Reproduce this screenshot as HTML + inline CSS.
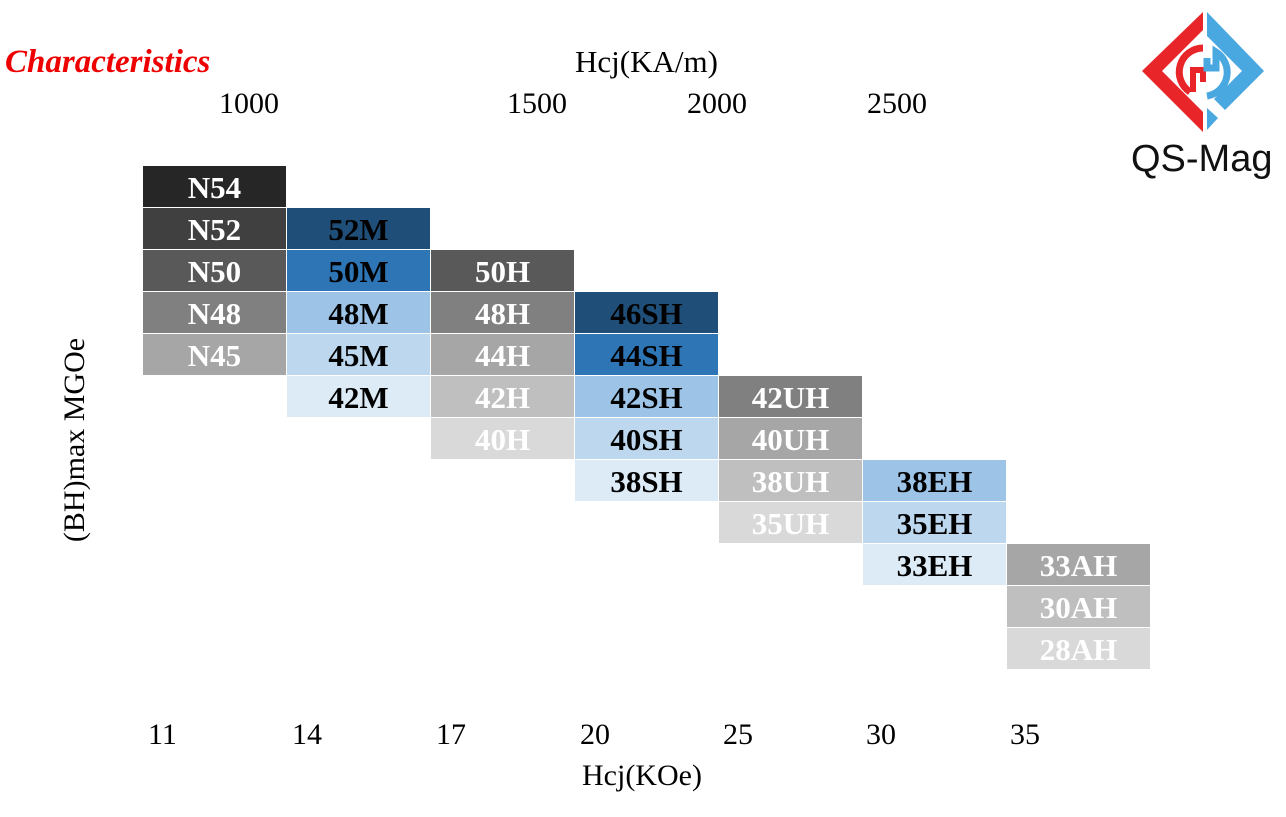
<!DOCTYPE html><html><head><style>
body{margin:0;width:1286px;height:817px;background:#fff;position:relative;overflow:hidden;font-family:"Liberation Serif",serif}
.t{position:absolute;white-space:nowrap;font-size:30px}
.c{position:absolute;width:143px;height:41px;line-height:43px;text-align:center;font-weight:bold;font-size:31px}
.w{color:#fff}.k{color:#000}
</style></head><body>
<div class="t" style="left:5px;top:44px;color:#e00;font-size:33px;font-weight:bold;font-style:italic">Characteristics</div>
<div class="t" style="left:575px;top:44px;font-size:31px">Hcj(KA/m)</div>
<div class="t" style="left:219px;top:87px">1000</div>
<div class="t" style="left:507px;top:87px">1500</div>
<div class="t" style="left:687px;top:87px">2000</div>
<div class="t" style="left:867px;top:87px">2500</div>
<div class="t" style="left:75px;top:440px;transform:translate(-50%,-50%) rotate(-90deg);transform-origin:center">(BH)max MGOe</div>
<div class="t" style="left:148px;top:718px">11</div>
<div class="t" style="left:292px;top:718px">14</div>
<div class="t" style="left:436px;top:718px">17</div>
<div class="t" style="left:580px;top:718px">20</div>
<div class="t" style="left:723px;top:718px">25</div>
<div class="t" style="left:866px;top:718px">30</div>
<div class="t" style="left:1010px;top:718px">35</div>
<div class="t" style="left:582px;top:759px">Hcj(KOe)</div>
<svg style="position:absolute;left:1140px;top:10px" width="130" height="125" viewBox="0 0 130 125">
<polygon points="63,2 63,20 22,61 63,102 63,122 2,61" fill="#e8262a"/>
<polygon points="67,2 124,61 85,100 74,89 102,61 67,26" fill="#4aa8e0"/>
<polygon points="67,98 78,108 67,120" fill="#4aa8e0"/>
<path d="M63,38 A24,24 0 0 0 50,82" fill="none" stroke="#e8262a" stroke-width="7"/>
<path d="M53,82 L53,60 L63,60 L63,72" fill="none" stroke="#e8262a" stroke-width="6"/>
<path d="M67,48 L67,58 L76,58 L76,42 A24,24 0 0 1 67,86" fill="none" stroke="#4aa8e0" stroke-width="7"/>
</svg>
<div class="t" style="left:1131px;top:138px;font-family:'Liberation Sans',sans-serif;font-size:38px;color:#111">QS-Mag</div>
<div class="c w" style="left:143px;top:166px;background:#262626">N54</div>
<div class="c w" style="left:143px;top:208px;background:#404040">N52</div>
<div class="c w" style="left:143px;top:250px;background:#595959">N50</div>
<div class="c w" style="left:143px;top:292px;background:#808080">N48</div>
<div class="c w" style="left:143px;top:334px;background:#a6a6a6">N45</div>
<div class="c k" style="left:287px;top:208px;background:#1f4e79">52M</div>
<div class="c k" style="left:287px;top:250px;background:#2e75b6">50M</div>
<div class="c k" style="left:287px;top:292px;background:#9dc3e6">48M</div>
<div class="c k" style="left:287px;top:334px;background:#bdd7ee">45M</div>
<div class="c k" style="left:287px;top:376px;background:#ddebf7">42M</div>
<div class="c w" style="left:431px;top:250px;background:#595959">50H</div>
<div class="c w" style="left:431px;top:292px;background:#808080">48H</div>
<div class="c w" style="left:431px;top:334px;background:#a6a6a6">44H</div>
<div class="c w" style="left:431px;top:376px;background:#bfbfbf">42H</div>
<div class="c w" style="left:431px;top:418px;background:#d9d9d9">40H</div>
<div class="c k" style="left:575px;top:292px;background:#1f4e79">46SH</div>
<div class="c k" style="left:575px;top:334px;background:#2e75b6">44SH</div>
<div class="c k" style="left:575px;top:376px;background:#9dc3e6">42SH</div>
<div class="c k" style="left:575px;top:418px;background:#bdd7ee">40SH</div>
<div class="c k" style="left:575px;top:460px;background:#ddebf7">38SH</div>
<div class="c w" style="left:719px;top:376px;background:#808080">42UH</div>
<div class="c w" style="left:719px;top:418px;background:#a6a6a6">40UH</div>
<div class="c w" style="left:719px;top:460px;background:#bfbfbf">38UH</div>
<div class="c w" style="left:719px;top:502px;background:#d9d9d9">35UH</div>
<div class="c k" style="left:863px;top:460px;background:#9dc3e6">38EH</div>
<div class="c k" style="left:863px;top:502px;background:#bdd7ee">35EH</div>
<div class="c k" style="left:863px;top:544px;background:#ddebf7">33EH</div>
<div class="c w" style="left:1007px;top:544px;background:#a6a6a6">33AH</div>
<div class="c w" style="left:1007px;top:586px;background:#bfbfbf">30AH</div>
<div class="c w" style="left:1007px;top:628px;background:#d9d9d9">28AH</div>
</body></html>
